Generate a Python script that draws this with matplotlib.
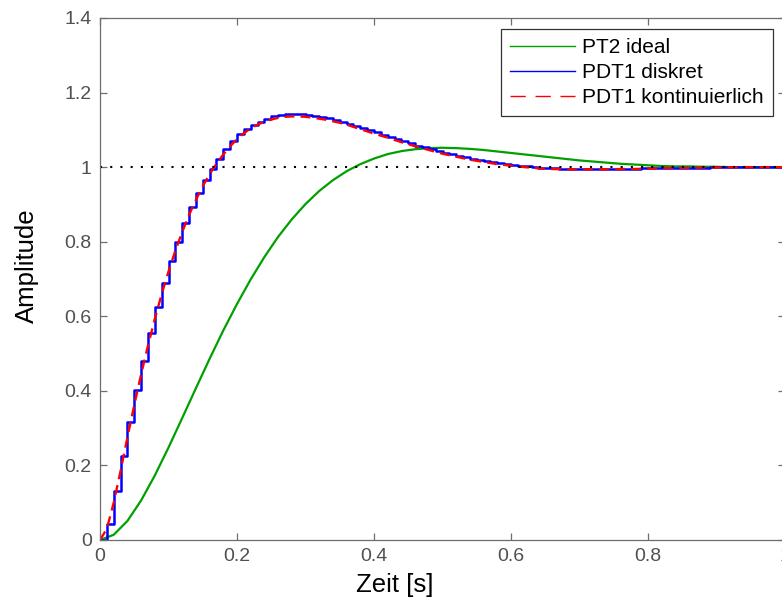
import numpy as np
import matplotlib
matplotlib.use("Agg")
import matplotlib.pyplot as plt
from matplotlib.lines import Line2D

plt.rcParams['font.family'] = ['Liberation Sans', 'DejaVu Sans']

# --- PT2 ideal (continuous), sampled every 0.02 s ---
t_pt2 = np.round(np.arange(0, 1.0001, 0.02), 2)
y_pt2 = [0.000, 0.014, 0.051, 0.106, 0.173, 0.248, 0.327, 0.407, 0.486, 0.562,
         0.633, 0.699, 0.759, 0.813, 0.860, 0.901, 0.936, 0.965, 0.989, 1.008,
         1.023, 1.035, 1.043, 1.048, 1.051, 1.052, 1.051, 1.049, 1.046, 1.042,
         1.038, 1.034, 1.030, 1.026, 1.022, 1.018, 1.015, 1.012, 1.009, 1.007,
         1.005, 1.003, 1.002, 1.002, 1.001, 1.001, 1.000, 1.000, 1.000, 1.000,
         1.000]

# --- PDT1 discrete, sample time 0.01 s ---
t_disc = np.round(np.arange(0, 1.0001, 0.01), 2)
y_disc = [0.000, 0.042, 0.131, 0.225, 0.316, 0.401, 0.481, 0.556, 0.626, 0.689,
          0.747, 0.800, 0.849, 0.893, 0.930, 0.966, 0.995, 1.023, 1.048, 1.070,
          1.088, 1.101, 1.113, 1.122, 1.130, 1.136, 1.140, 1.142, 1.143, 1.142,
          1.140, 1.138, 1.135, 1.131, 1.127, 1.122, 1.117, 1.111, 1.105, 1.099,
          1.093, 1.087, 1.081, 1.075, 1.069, 1.064, 1.058, 1.053, 1.048, 1.043,
          1.038, 1.034, 1.030, 1.026, 1.022, 1.019, 1.016, 1.013, 1.010, 1.008,
          1.006, 1.004, 1.002, 1.000, 0.999, 0.998, 0.997, 0.996, 0.996, 0.995,
          0.995, 0.995, 0.995, 0.995, 0.995, 0.995, 0.996, 0.996, 0.996, 0.997,
          0.997, 0.997, 0.998, 0.998, 0.998, 0.999, 0.999, 0.999, 0.999, 1.000,
          1.000, 1.000, 1.000, 1.000, 1.000, 1.000, 1.000, 1.000, 1.000, 1.000,
          1.000]

# --- PDT1 continuous: 0.01 s grid up to 0.4 s, then 0.02 s ---
t_cont = np.round(np.concatenate([np.arange(0, 0.4001, 0.01),
                                  np.arange(0.42, 1.0001, 0.02)]), 2)
y_cont = [0.000, 0.030, 0.100, 0.185, 0.275, 0.362, 0.444, 0.521, 0.593, 0.659,
          0.720, 0.776, 0.826, 0.872, 0.912, 0.949, 0.981, 1.009, 1.034, 1.056,
          1.075, 1.091, 1.104, 1.114, 1.122, 1.128, 1.132, 1.135, 1.136, 1.136,
          1.135, 1.133, 1.130, 1.127, 1.123, 1.119, 1.114, 1.108, 1.102, 1.096,
          1.090,
          1.079, 1.067, 1.056, 1.046, 1.036, 1.028, 1.020, 1.014, 1.008, 1.004,
          1.000, 0.997, 0.995, 0.994, 0.994, 0.994, 0.994, 0.995, 0.995, 0.996,
          0.997, 0.998, 0.998, 0.999, 0.999, 1.000, 1.000, 1.000, 1.000, 1.000]

setpoint = 1.0
x_ticks = [0, 0.2, 0.4, 0.6, 0.8, 1]
x_ticklabels = ["0", "0.2", "0.4", "0.6", "0.8", "1"]
y_ticks = [0, 0.2, 0.4, 0.6, 0.8, 1, 1.2, 1.4]
y_ticklabels = ["0", "0.2", "0.4", "0.6", "0.8", "1", "1.2", "1.4"]
labels = ["PT2 ideal", "PDT1 diskret", "PDT1 kontinuierlich"]

c_green = "#00a000"
c_blue = "#0000ff"
c_red = "#ff0000"
c_axis = "#6e6e6e"

W, H = 782, 600
fig = plt.figure(figsize=(W / 100, H / 100), dpi=100)
ax = fig.add_axes([100 / W, 60 / H, 685 / W, 522 / H])

ax.plot(t_pt2, y_pt2, color=c_green, lw=1.6)
ax.step(t_disc, y_disc, where="post", color=c_blue, lw=1.8)
ax.plot(t_cont, y_cont, color=c_red, lw=1.7, dashes=(4.2, 2.6))
ax.plot([0, 1], [setpoint, setpoint], color="black", lw=1.5, dashes=(1, 3.9))

ax.set_xlim(0, 1)
ax.set_ylim(0, 1.4)
ax.set_xticks(x_ticks)
ax.set_xticklabels(x_ticklabels)
ax.set_yticks(y_ticks)
ax.set_yticklabels(y_ticklabels)

for s in ax.spines.values():
    s.set_color(c_axis)
    s.set_linewidth(0.9)
ax.tick_params(direction="in", length=5, width=0.9, color=c_axis,
               labelcolor="#505050", labelsize=14, pad=6,
               top=True, right=True)

ax.set_xlabel("Zeit [s]", fontsize=18.5, color="black")
ax.set_ylabel("Amplitude", fontsize=18.5, color="black")
ax.xaxis.set_label_coords((395 - 100) / 685, -(585 - 540) / 522)
ax.yaxis.set_label_coords(-(100 - 27) / 685, (540 - 266) / 522)
ax.xaxis.label.set_va("center")
ax.yaxis.label.set_va("center")

handles = [Line2D([], [], color=c_green, lw=1.0),
           Line2D([], [], color=c_blue, lw=1.0),
           Line2D([], [], color=c_red, lw=1.0, dashes=(11, 7))]
leg = ax.legend(handles, labels, loc="upper right",
                bbox_to_anchor=(773 / W, 1 - 29 / H),
                bbox_transform=fig.transFigure,
                fontsize=15, frameon=True, fancybox=False,
                handlelength=3.1, handletextpad=0.35, labelspacing=0.28,
                borderpad=0.45, borderaxespad=0)
leg.get_frame().set_edgecolor("black")
leg.get_frame().set_linewidth(0.9)

fig.savefig("out.png", dpi=100)
